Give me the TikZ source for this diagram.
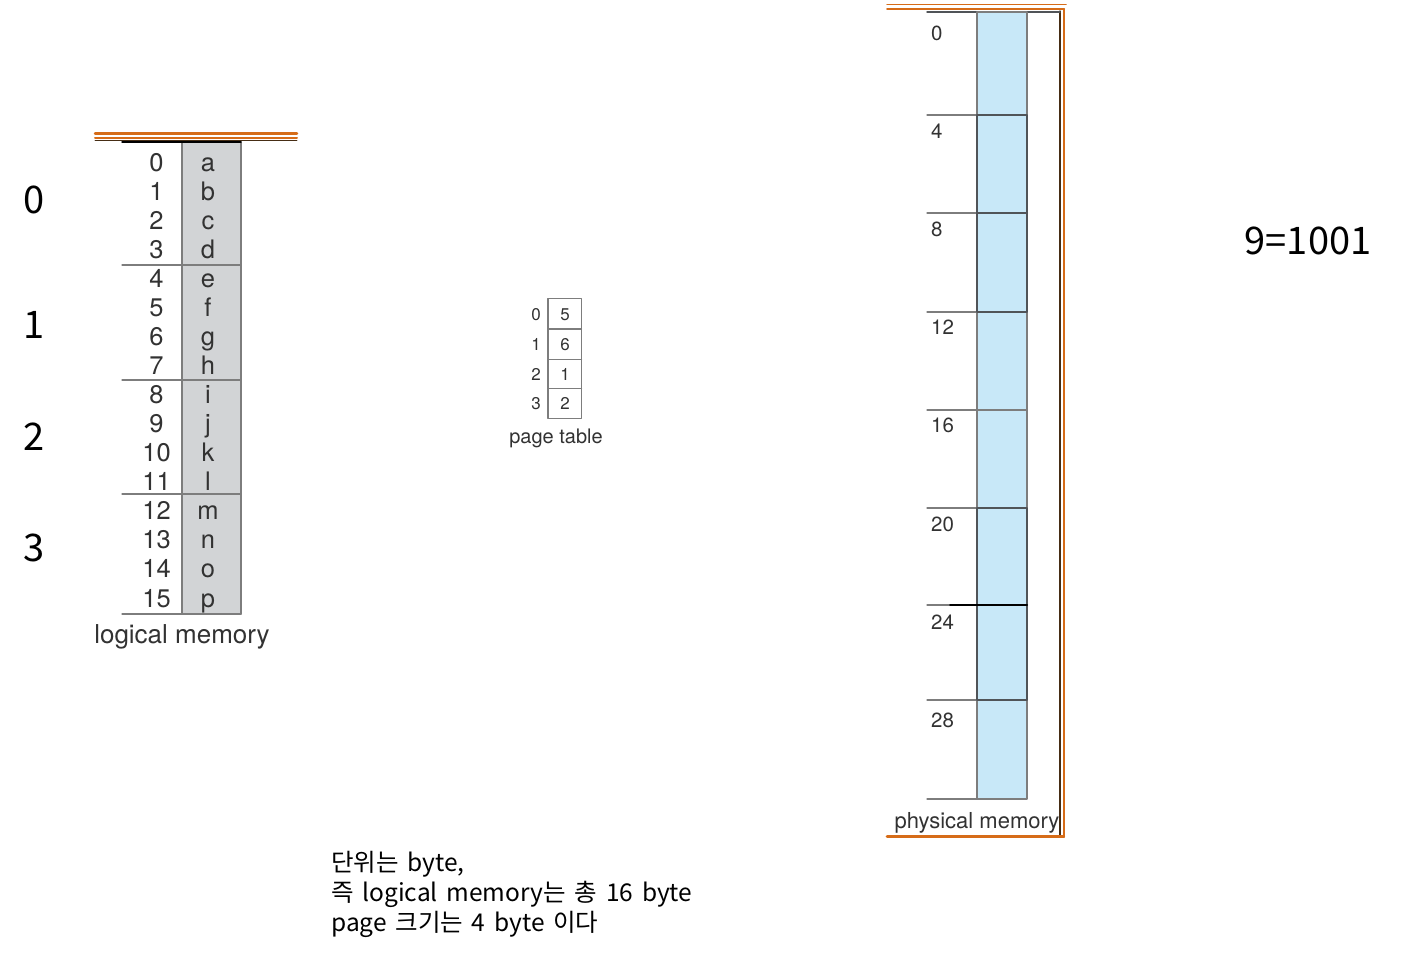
\documentclass[tikz,border=0pt]{standalone}
\usepackage{fontspec}
\setmainfont{TeX Gyre Heros}
\newfontfamily\krfont[WordSpace=1.6]{Noto Sans CJK KR}

\begin{document}
\begin{tikzpicture}[x=1pt, y=-1pt, line cap=round, line join=round]

% Colors
\definecolor{rim}{RGB}{214,108,24}
\definecolor{rimdark}{RGB}{70,45,20}
\definecolor{pagegray}{RGB}{210,212,214}
\definecolor{frameblue}{RGB}{200,232,248}
\definecolor{edge}{RGB}{125,125,125}
\definecolor{edgedark}{RGB}{80,84,88}
\definecolor{ink}{RGB}{50,50,50}

\tikzset{
  cell/.style={inner sep=0pt, text=ink, font=\fontsize{25.5}{25.5}\selectfont},
  tcell/.style={inner sep=0pt, text=ink, font=\fontsize{17}{17}\selectfont},
  fcell/.style={inner sep=0pt, text=ink, font=\fontsize{20.5}{20.5}\selectfont, anchor=base west},
  bignum/.style={inner sep=0pt, font=\krfont\fontsize{38}{38}\selectfont}
}

\useasboundingbox (0,0) rectangle (1408,953);

% Logical memory
\draw[rim, line width=2.5] (95,133.5) -- (297,133.5);
\draw[rim, line width=2] (95,138.2) -- (297,138.2);
\draw[rimdark, line width=0.8] (95,140.3) -- (297,140.3);
\fill[pagegray] (182,142) rectangle (241,614);
\draw[edge, line width=1.5] (182,142) -- (182,614);
\draw[edge, line width=1.5] (241,142) -- (241,614);
\foreach \y in {265,380,494,614}
  \draw[edge, line width=1.2] (122,\y) -- (241,\y);
\draw[black, line width=1.5] (122,142) -- (241,142);
\foreach \ch [count=\i from 0] in {a,b,c,d,e,f,g,h,i,j,k,l,m,n,o,p} {
  \node[cell, anchor=base] (addr\i) at (156.5,{171+29.07*\i}) {\i};
  \node[cell, anchor=base] (byte\i) at (208,{171+29.07*\i}) {\ch};
}
\node[cell, font=\fontsize{26}{26}\selectfont] (lmlabel) at (182,637) {logical memory};

% Page numbers
\node[bignum] (page0) at (34,200) {0};
\node[bignum] (page1) at (34,325) {1};
\node[bignum] (page2) at (34,437) {2};
\node[bignum] (page3) at (34,548) {3};

% Page table
\draw[edge, line width=1.2] (548,298.5) rectangle (581.5,418.3);
\foreach \y in {329,359.3,388.7}
  \draw[edge, line width=1.2] (548,\y) -- (581.5,\y);
\foreach \f [count=\i from 0] in {5,6,1,2} {
  \node[tcell] (pidx\i) at (536,{314.5+29.8*\i}) {\i};
  \node[tcell] (pfrm\i) at (565,{314.5+29.8*\i}) {\f};
}
\node[tcell, font=\fontsize{20}{20}\selectfont] (ptlabel) at (556,438) {page table};

% Physical memory
\draw[rim, line width=1.5] (887,4.5) -- (1066,4.5);
\draw[rim, line width=2] (887,9) -- (1064,9);
\draw[rim, line width=2] (1063.5,9) -- (1063.5,837);
\draw[rimdark, line width=1.2] (1060,11) -- (1060,835);
\draw[rim, line width=3] (887,836.5) -- (1063.5,836.5);
\fill[frameblue] (977,12) rectangle (1027,799);
\draw[edgedark, line width=1.5] (927,12) -- (1060,12);
\foreach \y in {115,213,312,410,508,605,700,799}
  \draw[edge, line width=1.2] (927,\y) -- (977,\y);
% free frames
\draw[edge, line width=1.2] (977,12) rectangle (1027,115);
\draw[edge, line width=1.2] (977,312) rectangle (1027,508);
\draw[edge, line width=1.2] (977,410) -- (1027,410);
\draw[edge, line width=1.2] (977,700) rectangle (1027,799);
% used frames
\draw[edgedark, line width=2] (977,115) rectangle (1027,312);
\draw[edgedark, line width=2] (977,213) -- (1027,213);
\draw[edgedark, line width=2] (977,508) rectangle (1027,700);
\draw[black, line width=2] (950,605) -- (1027,605);
\foreach \v/\y in {0/40,4/138,8/236,12/334,16/432,20/531,24/629,28/727}
  \node[fcell] (addrp\v) at (931,\y) {\v};
\node[tcell, font=\fontsize{22}{22}\selectfont] (pmlabel) at (977,823) {physical memory};

% Notes
\node[bignum] (binary) at (1308,241) {9=1001};
\node[anchor=north west, align=left, inner sep=0pt,
      font=\krfont\fontsize{24.5}{30}\selectfont] (note) at (331,851)
  {단위는 byte,\\즉 logical memory는 총 16 byte\\page 크기는 4 byte 이다};

\end{tikzpicture}
\end{document}
